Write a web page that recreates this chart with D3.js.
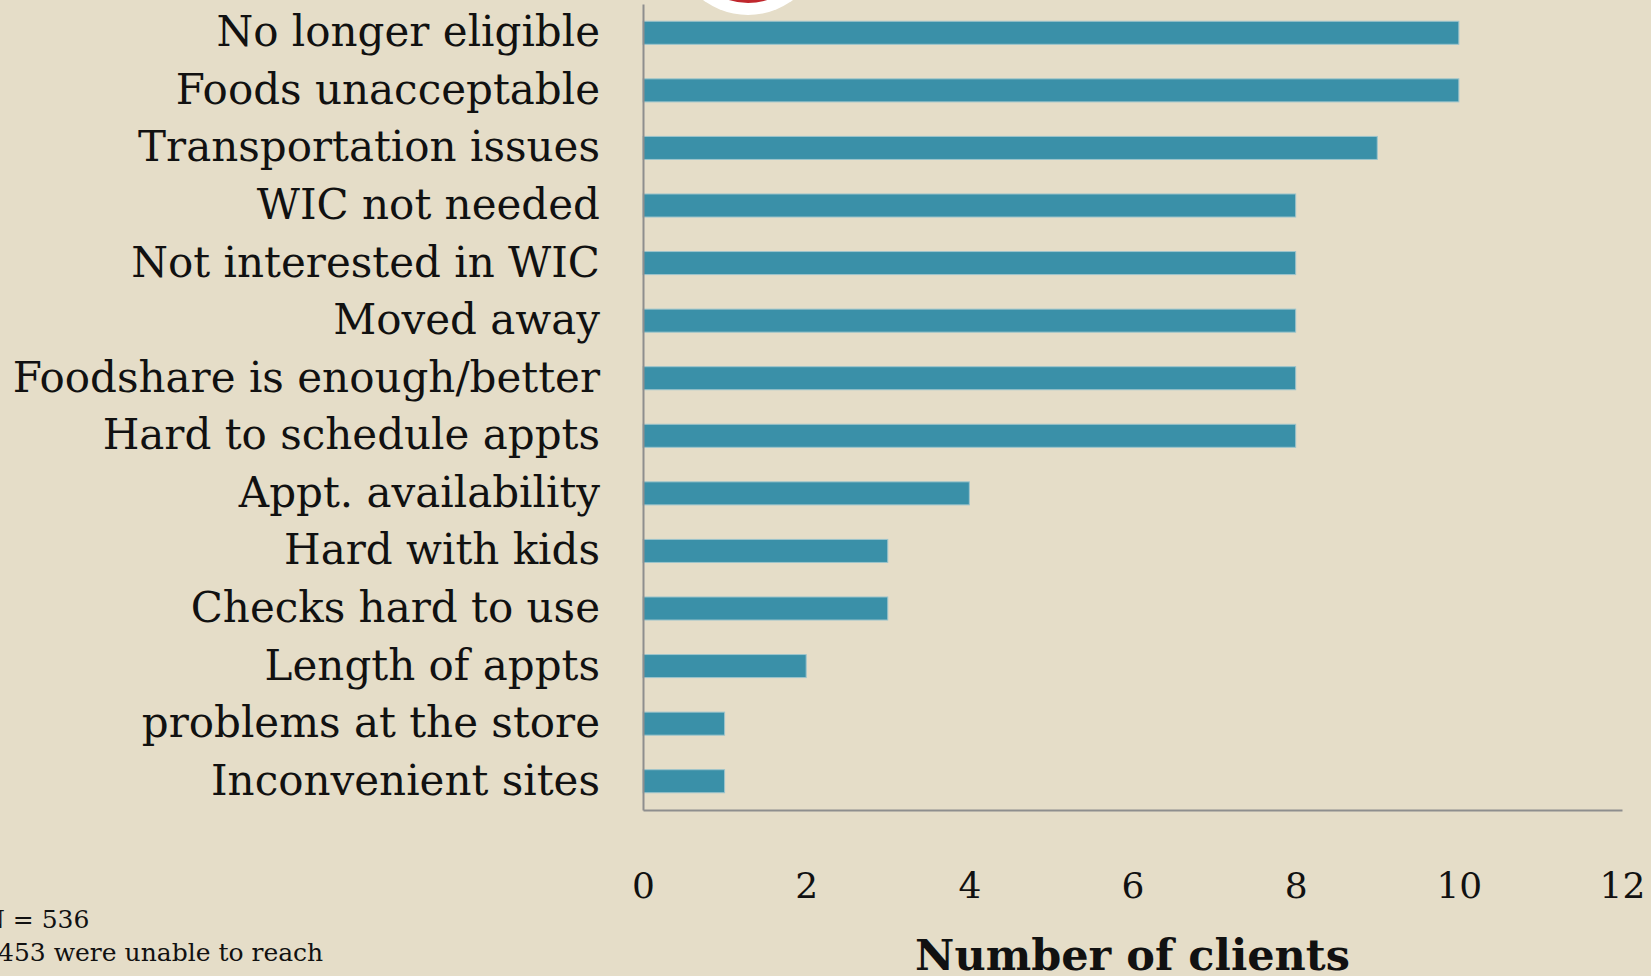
<!DOCTYPE html>
<html>
<head>
<meta charset="utf-8">
<script src="https://cdn.jsdelivr.net/npm/d3@7"></script>
<style>
  html, body { margin: 0; padding: 0; background: #e5ddc8; overflow: hidden; }
  svg { display: block; }
  text { font-family: "DejaVu Serif", "Liberation Serif", serif; fill: #111; }
</style>
</head>
<body>
<svg id="chart" width="1651" height="976"></svg>
<script>
const reasons = [
  'No longer eligible',
  'Foods unacceptable',
  'Transportation issues',
  'WIC not needed',
  'Not interested in WIC',
  'Moved away',
  'Foodshare is enough/better',
  'Hard to schedule appts',
  'Appt. availability',
  'Hard with kids',
  'Checks hard to use',
  'Length of appts',
  'problems at the store',
  'Inconvenient sites'
];
const clients = [10, 10, 9, 8, 8, 8, 8, 8, 4, 3, 3, 2, 1, 1];
const xTicks = [0, 2, 4, 6, 8, 10, 12];
const notes = ['N = 536', '453 were unable to reach'];

let svg = d3.select('#chart');

let x = d3.scaleLinear().domain([0, 12]).range([643, 1622]);
let y = d3
  .scaleBand()
  .domain(reasons)
  .range([4, 810])
  .paddingInner(0.6)
  .paddingOuter(0.3);

// logo fragment peeking in at the top
svg.append('circle').attr('cx', 748).attr('cy', -60).attr('r', 75).attr('fill', '#ffffff');
svg.append('circle').attr('cx', 748).attr('cy', -60).attr('r', 63).attr('fill', '#c0272d');

svg
  .append('g')
  .selectAll('rect')
  .data(clients)
  .join('rect')
  .attr('x', x(0))
  .attr('y', (d, i) => y(reasons[i]))
  .attr('width', (d) => x(d) - x(0))
  .attr('height', y.bandwidth())
  .attr('fill', '#3a90a8')
  .attr('stroke', '#9cc4cc')
  .attr('stroke-width', 1);

// axis lines
let xLine = svg
  .append('g')
  .attr('transform', 'translate(0,810)')
  .call(d3.axisBottom(x).ticks(0).tickSizeOuter(0));
xLine.select('.domain').attr('stroke', '#8e8e8e').attr('stroke-width', 2);

let yAxis = svg
  .append('g')
  .attr('transform', `translate(${x(0)},0)`)
  .call(d3.axisLeft(y).tickSize(0).tickSizeOuter(0).tickPadding(43));
yAxis.select('.domain').attr('stroke', '#8e8e8e').attr('stroke-width', 2);
yAxis
  .selectAll('text')
  .style('font-family', '"DejaVu Serif", serif')
  .style('font-size', '42px')
  .attr('fill', '#111');

// tick labels sit well below the axis line
let xLabels = svg
  .append('g')
  .attr('transform', 'translate(0,810)')
  .call(d3.axisBottom(x).tickValues(xTicks).tickSize(0).tickPadding(62));
xLabels.select('.domain').remove();
xLabels
  .selectAll('text')
  .style('font-family', '"DejaVu Serif", serif')
  .style('font-size', '36px')
  .attr('fill', '#111');

svg
  .append('text')
  .attr('x', (x(0) + x(12)) / 2)
  .attr('y', 970)
  .attr('text-anchor', 'middle')
  .style('font-size', '43px')
  .style('font-weight', 'bold')
  .text('Number of clients');

svg
  .append('g')
  .selectAll('text')
  .data(notes)
  .join('text')
  .attr('x', (d, i) => (i == 0 ? -17 : -2))
  .attr('y', (d, i) => 928 + i * 33)
  .style('font-size', '25px')
  .text((d) => d);
</script>
</body>
</html>
